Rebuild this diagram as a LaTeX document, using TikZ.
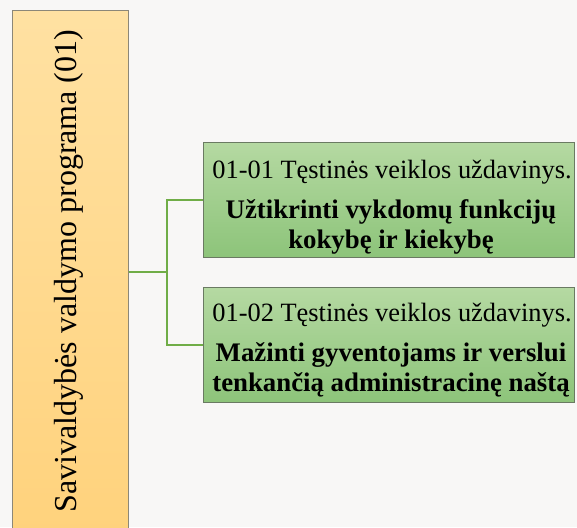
\documentclass[tikz,border=0pt]{standalone}
\usepackage{fontspec}
\setmainfont{Liberation Serif}
\definecolor{bgcol}{HTML}{F8F7F6}
\definecolor{orgtop}{HTML}{FFE1A2}
\definecolor{orgbot}{HTML}{FFD27C}
\definecolor{orgline}{HTML}{8C8778}
\definecolor{grntop}{HTML}{B5D9A2}
\definecolor{grnbot}{HTML}{8DC47A}
\definecolor{grnline}{HTML}{6A7A62}
\definecolor{conncol}{HTML}{70AD47}
\tikzset{
  progbox/.style={draw=orgline, line width=1pt, top color=orgtop, bottom color=orgbot, minimum width=116pt, minimum height=530pt, inner sep=0pt},
  taskbox/.style={draw=grnline, line width=1pt, top color=grntop, bottom color=grnbot, minimum width=371pt, minimum height=115pt, inner sep=0pt},
  tasktitle/.style={font=\fontsize{26.4}{30}\selectfont, inner sep=0pt},
  taskname/.style={font=\fontsize{26.8}{29.5}\selectfont\bfseries, align=center, inner sep=0pt},
  progtext/.style={font=\fontsize{32}{36}\selectfont, rotate=90, inner sep=0pt},
  conn/.style={draw=conncol, line width=2pt}
}
\begin{document}
\begin{tikzpicture}[x=1pt,y=-1pt]
\fill[bgcol] (0,0) rectangle (577,527);
\useasboundingbox (0,0) rectangle (577,527);
\node[progbox] (prog) at (70,276) {};
\node[progtext] (progt) at (69,271) {Savivaldybės valdymo programa (01)};
\node[taskbox] (b1) at (388.5,199.5) {};
\node[taskbox] (b2) at (388.5,345) {};
\node[tasktitle] (t1) at (392,172) {01-01 Tęstinės veiklos uždavinys.};
\node[taskname] (n1) at (391,227) {Užtikrinti vykdomų funkcijų\\kokybę ir kiekybę};
\node[tasktitle] (t2) at (392,315) {01-02 Tęstinės veiklos uždavinys.};
\node[taskname] (n2) at (391,370) {Mažinti gyventojams ir verslui\\tenkančią administracinę naštą};
\coordinate (j) at (167,272);
\draw[conn] (prog.east |- j) -- (j);
\draw[conn] (b1.west) -| (j) |- (b2.west);
\end{tikzpicture}
\end{document}
